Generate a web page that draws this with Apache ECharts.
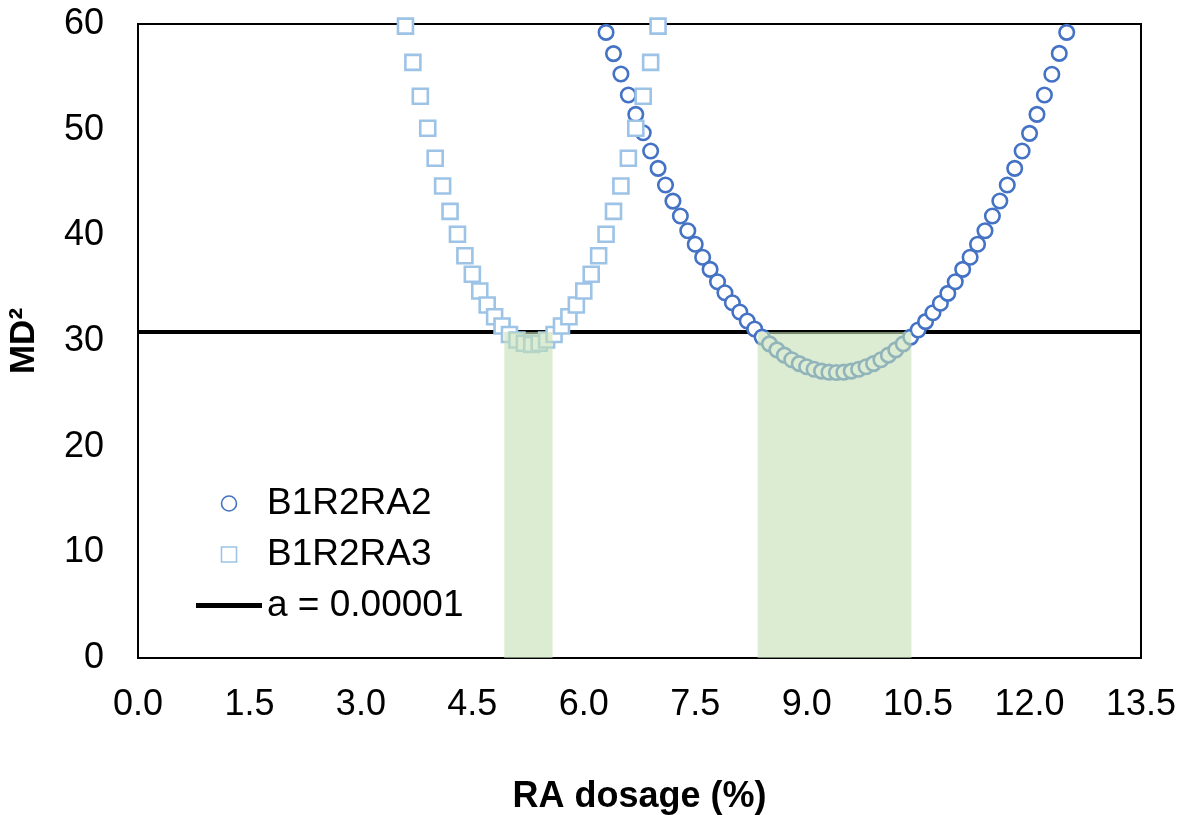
<!DOCTYPE html>
<html>
<head>
<meta charset="utf-8">
<script src="https://cdn.jsdelivr.net/npm/echarts@6/dist/echarts.min.js"></script>
<style>html,body{margin:0;padding:0;background:#fff;}#c{width:1184px;height:815px;}</style>
</head>
<body>
<div id="c"></div>
<script>
// ---- data ----
const ra2X = [6.3,6.4,6.5,6.6,6.7,6.8,6.9,7.0,7.1,7.2,7.3,7.4,7.5,7.6,7.7,7.8,7.9,8.0,8.1,8.2,8.3,
  8.4,8.5,8.6,8.7,8.8,8.9,9.0,9.1,9.2,9.3,9.4,9.5,9.6,9.7,9.8,9.9,10.0,10.1,10.2,10.3,10.4,
  10.5,10.6,10.7,10.8,10.9,11.0,11.1,11.2,11.3,11.4,11.5,11.6,11.7,11.8,11.9,12.0,12.1,12.2,12.3,12.4,12.5];
const ra2Y = [59.21,57.20,55.27,53.28,51.45,49.71,47.98,46.34,44.76,43.24,41.83,40.44,39.15,37.92,36.78,35.61,34.57,33.62,32.74,31.89,31.13,
  30.37,29.73,29.16,28.66,28.23,27.86,27.56,27.32,27.15,27.05,27.02,27.05,27.15,27.32,27.56,27.86,28.23,28.66,29.16,29.73,30.37,
  31.04,31.83,32.68,33.57,34.51,35.61,36.78,37.92,39.15,40.44,41.83,43.25,44.76,46.34,47.98,49.65,51.45,53.28,55.24,57.22,59.21];
const ra3X = [3.6,3.7,3.8,3.9,4.0,4.1,4.2,4.3,4.4,4.5,4.6,4.7,4.8,4.9,
  5.0,5.1,5.2,5.3,5.4,5.5,5.6,
  5.7,5.8,5.9,6.0,6.1,6.2,6.3,6.4,6.5,6.6,6.7,6.8,6.9,7.0];
const ra3Y = [59.80,56.37,53.16,50.13,47.29,44.67,42.27,40.10,38.07,36.31,34.73,33.41,32.30,31.42,
  30.62,30.10,29.78,29.68,29.78,30.10,30.62,
  31.42,32.30,33.41,34.73,36.31,38.07,40.10,42.27,44.67,47.29,50.13,53.16,56.37,59.80];
const thresholdValue = 30.84;
const thresholdName = 'a = 0.00001';
const greenRanges = [[4.93, 5.58], [8.34, 10.41]];
const xTicks = {min: 0, max: 13.5, interval: 1.5};
const yTicks = {min: 0, max: 60, interval: 10};

// ---- chart ----
const FONT = '"Liberation Sans", Arial, sans-serif';
const chart = echarts.init(document.getElementById('c'));
const pair = (xs, ys) => xs.map((x, i) => [x, ys[i]]);
chart.setOption({
  animation: false,
  grid: {left: 138, right: 43, top: 24, bottom: 157, containLabel: false, outerBoundsMode: 'none',
    show: true, borderColor: '#000', borderWidth: 2, backgroundColor: 'transparent'},
  xAxis: {
    type: 'value', min: xTicks.min, max: xTicks.max, interval: xTicks.interval,
    name: 'RA dosage (%)', nameLocation: 'middle', nameGap: 121,
    nameTextStyle: {fontFamily: FONT, fontSize: 36, fontWeight: 'bold', color: '#000'},
    axisLine: {show: true, onZero: false, lineStyle: {color: '#000', width: 2}},
    axisTick: {show: false}, splitLine: {show: false},
    axisLabel: {fontFamily: FONT, fontSize: 36, color: '#000', margin: 29, formatter: v => v.toFixed(1)}
  },
  yAxis: {
    type: 'value', min: yTicks.min, max: yTicks.max, interval: yTicks.interval,
    name: 'MD²', nameLocation: 'middle', nameGap: 96, nameRotate: 90,
    nameTextStyle: {fontFamily: FONT, fontSize: 35, fontWeight: 'bold', color: '#000'},
    axisLine: {show: true, lineStyle: {color: '#000', width: 2}},
    axisTick: {show: false}, splitLine: {show: false},
    axisLabel: {fontFamily: FONT, fontSize: 36, color: '#000', margin: 34}
  },
  legend: {
    orient: 'vertical', left: 196, top: 485, itemWidth: 66, itemHeight: 15, itemGap: 14, padding: 0,
    textStyle: {fontFamily: FONT, fontSize: 37, color: '#000', lineHeight: 36},
    itemStyle: {borderWidth: 1.6},
    data: [
      {name: 'B1R2RA2'},
      {name: 'B1R2RA3', icon: 'path://M0 0H10V10H0Z'},
      {name: thresholdName, icon: 'path://M0 0H66V5H0Z', itemStyle: {color: '#000', borderWidth: 0}}
    ]
  },
  series: [
    {
      name: thresholdName, type: 'line', z: 2, symbol: 'none', silent: true,
      lineStyle: {color: '#000', width: 4}, itemStyle: {color: '#000'},
      data: [[xTicks.min, thresholdValue], [xTicks.max, thresholdValue]]
    },
    {
      name: 'B1R2RA2', type: 'scatter', z: 3, symbol: 'circle', symbolSize: 14.5,
      itemStyle: {color: '#fff', borderColor: '#4472C4', borderWidth: 2.6, opacity: 1},
      data: pair(ra2X, ra2Y)
    },
    {
      name: 'B1R2RA3', type: 'scatter', z: 3, symbol: 'rect', symbolSize: 15,
      itemStyle: {color: '#fff', borderColor: '#9DC3E6', borderWidth: 2.6, opacity: 1},
      data: pair(ra3X, ra3Y)
    },
    {
      name: 'green', type: 'custom', z: 6, silent: true,
      encode: {x: [0, 1], y: 2},
      data: greenRanges.map(r => [r[0], r[1], thresholdValue]),
      renderItem: (params, api) => {
        const p0 = api.coord([api.value(0), api.value(2)]);
        const p1 = api.coord([api.value(1), 0]);
        return {type: 'rect', shape: {x: p0[0], y: p0[1], width: p1[0] - p0[0], height: p1[1] - p0[1]},
          style: {fill: 'rgba(197,224,180,0.6)'}};
      }
    }
  ]
});
</script>
</body>
</html>
